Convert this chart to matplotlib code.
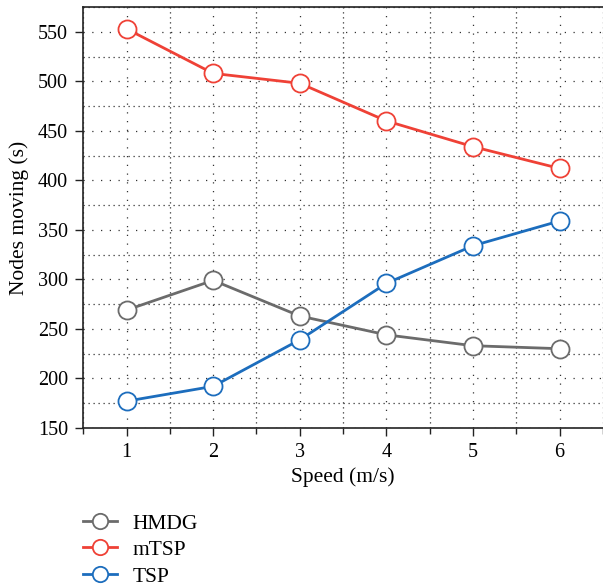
import matplotlib
matplotlib.use("Agg")
import matplotlib.pyplot as plt
from matplotlib.ticker import MultipleLocator

plt.rcParams["font.family"] = ["Liberation Serif", "DejaVu Serif"]

speed = [1, 2, 3, 4, 5, 6]
hmdg = [269, 299, 263, 244, 233, 230]
mtsp = [553, 508, 498, 460, 434, 412]
tsp = [177, 192, 239, 296, 334, 359]

series = [
    ("HMDG", hmdg, "#6b6b6b"),
    ("mTSP", mtsp, "#ef4136"),
    ("TSP", tsp, "#1c6dbd"),
]

fig = plt.figure(figsize=(6.03, 5.87), dpi=100)
ax = fig.add_axes([0.138, 0.271, 0.862, 0.717])

for name, vals, col in series:
    ax.plot(speed, vals, color=col, lw=2.0, marker="o", ms=13,
            mfc="white", mec=col, mew=1.3, label=name, zorder=3)

ax.set_xlim(0.5, 6.5)
ax.set_ylim(150, 575)
ax.xaxis.set_major_locator(MultipleLocator(1))
ax.xaxis.set_minor_locator(MultipleLocator(0.5))
ax.yaxis.set_major_locator(MultipleLocator(50))
ax.yaxis.set_minor_locator(MultipleLocator(25))
ax.tick_params(axis="both", which="major", labelsize=14.5, direction="out",
               length=6, width=1, color="#222222", pad=5)
ax.tick_params(axis="x", which="minor", length=4, width=1, color="#222222")
ax.tick_params(axis="y", which="minor", length=0)
ax.grid(which="major", color="#333333", lw=0.9, ls=(0, (1, 6)))
ax.grid(which="minor", color="#333333", lw=0.9, ls=(0, (1, 3)))

for s in ["left", "bottom", "top"]:
    ax.spines[s].set_linewidth(1.2)
    ax.spines[s].set_color("#222222")
ax.spines["right"].set_visible(False)

ax.set_xlabel("Speed (m/s)", fontsize=15.5, labelpad=4)
ax.set_ylabel("Nodes moving (s)", fontsize=15.5, labelpad=6)

fig.legend(loc="upper left", bbox_to_anchor=(0.123, 0.14), frameon=False,
           fontsize=15.5, handlelength=1.6, handletextpad=0.7,
           labelspacing=0.3, borderaxespad=0, markerscale=0.85)

fig.savefig("out.png", dpi=100)
